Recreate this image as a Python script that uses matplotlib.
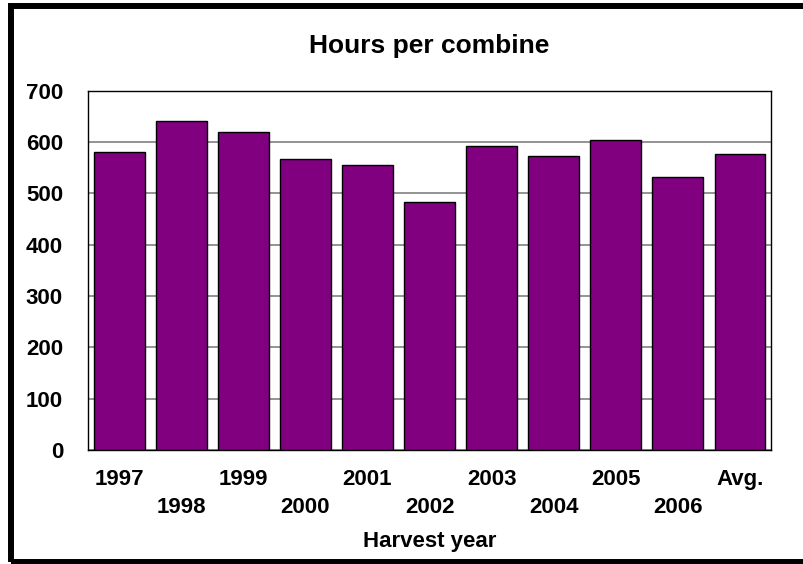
import matplotlib.pyplot as plt
from matplotlib.patches import Rectangle

years = ["1997", "1998", "1999", "2000", "2001", "2002",
         "2003", "2004", "2005", "2006", "Avg."]
hours = [581, 641, 620, 568, 556, 484, 592, 572, 605, 532, 577]

plt.rcParams['font.family'] = ['Liberation Sans', 'DejaVu Sans']
plt.rcParams['font.weight'] = 'bold'

fig = plt.figure(figsize=(8.04, 5.64), dpi=100)
ax = fig.add_axes([0.1095, 0.202, 0.8495, 0.637])

x = list(range(len(years)))
ax.bar(x, hours, width=0.82, color='#800080', edgecolor='black',
       linewidth=1, zorder=3)

ax.set_xlim(-0.5, len(years) - 0.5)
ax.set_ylim(0, 700)
ax.set_yticks(range(0, 701, 100))
ax.yaxis.grid(True, color='#808080', linewidth=1.2, zorder=0)
ax.tick_params(axis='y', length=0, pad=18, labelsize=16)

# alternate labels on two rows
labels = [y if i % 2 == 0 else "\n" + y for i, y in enumerate(years)]
ax.set_xticks(x)
ax.set_xticklabels(labels, fontsize=16, linespacing=1.42)
ax.tick_params(axis='x', length=0, pad=13.5)

for s in ax.spines.values():
    s.set_color('black')
    s.set_linewidth(1)

ax.set_title('Hours per combine', fontsize=19, fontweight='bold', pad=27)
ax.set_xlabel('Harvest year', fontsize=16, fontweight='bold', labelpad=10)

# thick frame around whole chart (right side runs off the image)
fig.patches.append(Rectangle((0.0137, 0.0027), 1.0, 0.9867, transform=fig.transFigure,
                             fill=False, edgecolor='black', linewidth=4.3))

fig.savefig('out.png', dpi=100)
